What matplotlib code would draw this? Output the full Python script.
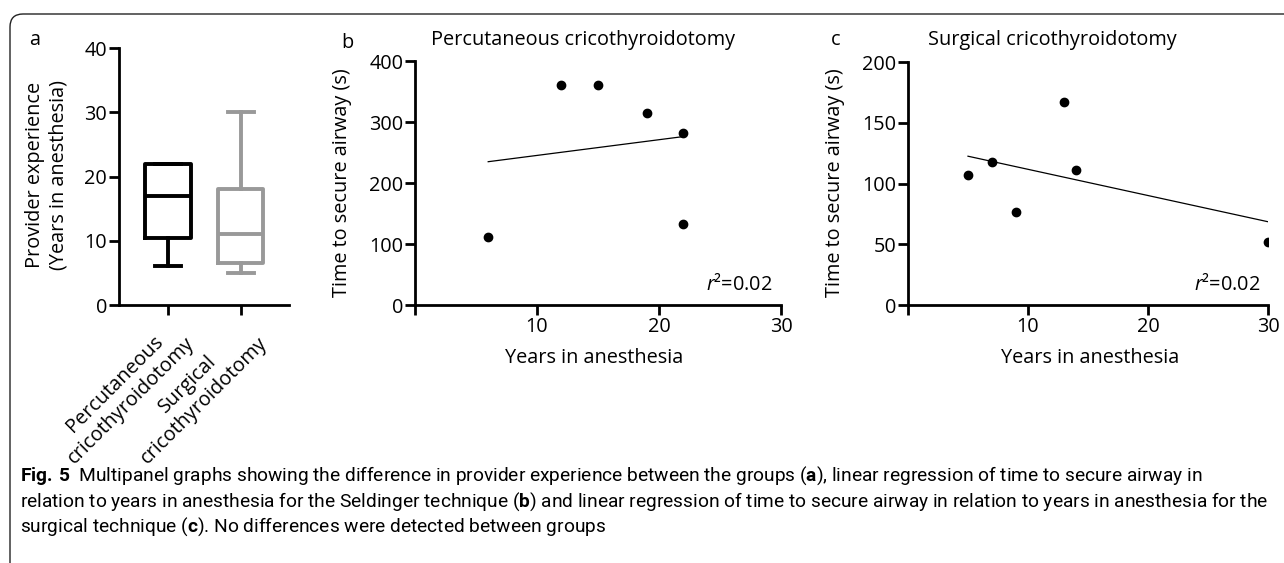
import numpy as np
import matplotlib
matplotlib.use("Agg")
import matplotlib.pyplot as plt
from matplotlib.patches import FancyBboxPatch

# data
perc_years = [6, 12, 15, 19, 22, 22]
perc_time = [112, 361, 361, 315, 282, 133]
surg_years = [5, 7, 9, 13, 14, 30]
surg_time = [107, 118, 77, 167, 111, 52]
group_labels = ["Percutaneous\ncricothyroidotomy", "Surgical\ncricothyroidotomy"]
group_colors = ["black", "#999999"]
r2_text = "0.02"

caption_lines = [
    r"$\mathbf{Fig.\,5}$  Multipanel graphs showing the difference in provider experience between the groups ($\mathbf{a}$), linear regression of time to secure airway in",
    r"relation to years in anesthesia for the Seldinger technique ($\mathbf{b}$) and linear regression of time to secure airway in relation to years in anesthesia for the",
    r"surgical technique ($\mathbf{c}$). No differences were detected between groups",
]
cap_font = "Roboto"

plt.rcParams["font.family"] = ["Open Sans", "DejaVu Sans"]
plt.rcParams["mathtext.fontset"] = "custom"
plt.rcParams["mathtext.rm"] = "Open Sans"
plt.rcParams["mathtext.it"] = "Open Sans:italic"
plt.rcParams["mathtext.bf"] = cap_font + ":bold"
plt.rcParams["axes.linewidth"] = 2
plt.rcParams["xtick.major.width"] = 2
plt.rcParams["ytick.major.width"] = 2
plt.rcParams["xtick.major.size"] = 7
plt.rcParams["ytick.major.size"] = 7
fs = 14.3
W, H = 1284, 563

fig = plt.figure(figsize=(12.84, 5.63), dpi=100)

# frame around the figure
frame = FancyBboxPatch((0.10, -0.5), 13.5, 5.99, boxstyle="round,pad=0,rounding_size=0.13",
                       transform=fig.dpi_scale_trans, fill=False, lw=1.0, ec="#222222")
fig.add_artist(frame)


def px_text(x, y, s, **kw):
    return fig.text(x / W, 1 - y / H, s, fontsize=fs, ha="center", va="center", **kw)


def style(ax):
    ax.spines["top"].set_visible(False)
    ax.spines["right"].set_visible(False)
    ax.tick_params(labelsize=fs, pad=1.5)


# panel a: box plots
ax1 = fig.add_axes([119 / W, 1 - 305 / H, 170 / W, 257 / H])
stats = []
for yrs in [perc_years, surg_years]:
    q1, med, q3 = np.percentile(yrs, [25, 50, 75], method="weibull")
    stats.append(dict(med=med, q1=q1, q3=q3, whislo=min(yrs), whishi=max(yrs)))
for i, (st, col) in enumerate(zip(stats, group_colors)):
    props = dict(color=col, linewidth=2.8)
    ax1.bxp([st], positions=[i + 1], widths=0.62, showfliers=False, capwidths=[0.36],
            boxprops=props, medianprops=props, whiskerprops=props, capprops=props)
ax1.set_xlim(0.33, 2.66)
ax1.set_ylim(0, 40)
ax1.set_yticks([0, 10, 20, 30, 40])
ax1.set_xticks([1, 2])
ax1.set_xticklabels(group_labels, rotation=45, ha="right", va="top", rotation_mode="anchor",
                    multialignment="center")
style(ax1)
px_text(47, 175, "Provider experience\n(Years in anesthesia)", rotation=90)


def scatter_panel(rect, x, y, ymax, ystep):
    ax = fig.add_axes(rect)
    ax.plot(x, y, "o", color="black", markersize=6)
    k, b = np.polyfit(x, y, 1)
    xs = np.array([min(x), max(x)])
    ax.plot(xs, k * xs + b, color="black", lw=0.9)
    ax.set_xlim(0, 30)
    ax.set_ylim(0, ymax)
    ax.set_xticks([0, 10, 20, 30])
    ax.set_xticklabels(["", "10", "20", "30"])
    ax.set_yticks(np.arange(0, ymax + 1, ystep))
    style(ax)
    return ax


scatter_panel([415 / W, 1 - 305 / H, 366 / W, 244 / H], perc_years, perc_time, 400, 100)
scatter_panel([908 / W, 1 - 305 / H, 360 / W, 242.7 / H], surg_years, surg_time, 200, 50)

px_text(583, 40, "Percutaneous cricothyroidotomy")
px_text(1052, 40, "Surgical cricothyroidotomy")
for xc in [594, 1090]:
    px_text(xc, 358, "Years in anesthesia")
for xc in [342, 835]:
    px_text(xc, 183, "Time to secure airway (s)", rotation=90)
for xr in [772, 1260]:
    t = px_text(xr, 285, r"$r$" + "\u00b2=" + r2_text)
    t.set_ha("right")
for letter, lx, ly in [("a", 35, 40), ("b", 347, 43), ("c", 836, 40)]:
    px_text(lx, ly, letter)

# caption, sized so that the second line spans the same width as in the original
cap = [px_text(20, 476 + 25.5 * i, line, family=cap_font) for i, line in enumerate(caption_lines)]
for t in cap:
    t.set_ha("left")
renderer = fig.canvas.get_renderer()
width = cap[1].get_window_extent(renderer).width
size = fs * 1247 / width
for t in cap:
    t.set_fontsize(size)

fig.savefig("out.png", dpi=100)
